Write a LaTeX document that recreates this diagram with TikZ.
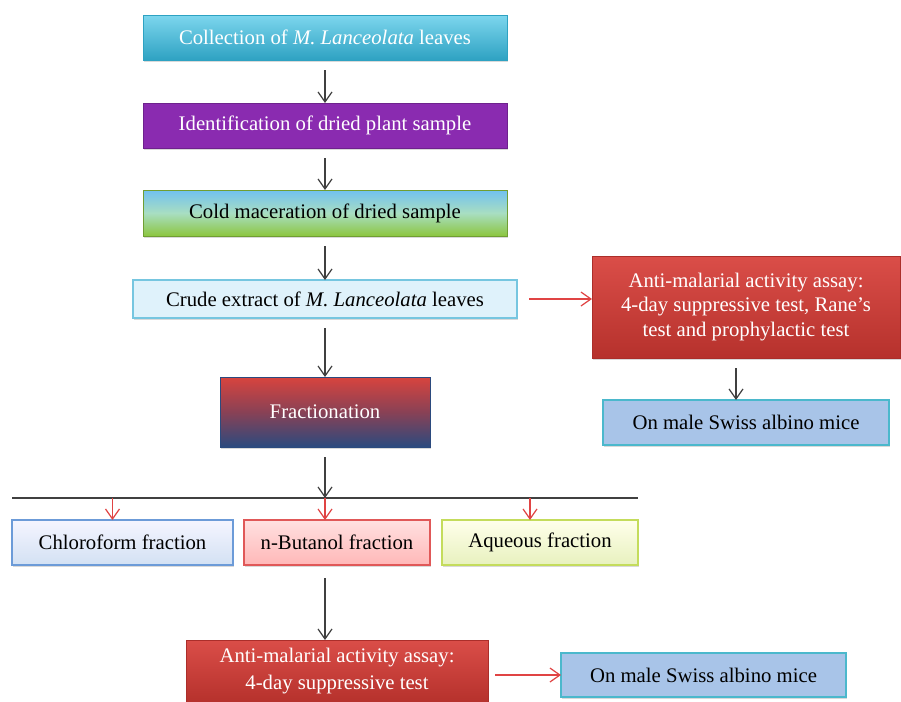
\documentclass[tikz,border=0pt]{standalone}
\usepackage{fontspec}
\setmainfont{Liberation Serif}
\usepackage{tikz}
\usetikzlibrary{arrows.meta, positioning, shadows}
\usepackage{xcolor}
\definecolor{cyantop}{HTML}{7DD6EE}
\definecolor{cyanbot}{HTML}{2EA2C2}
\definecolor{purplebox}{HTML}{8A2BB0}
\definecolor{greenbot}{HTML}{8CC63F}
\definecolor{crudefill}{HTML}{DFF2FB}
\definecolor{crudeline}{HTML}{76C6E0}
\definecolor{assayred}{HTML}{D63A34}
\definecolor{micefill}{HTML}{A8C4E8}
\definecolor{miceline}{HTML}{4BB8CC}
\definecolor{fracblue}{HTML}{2B4A7E}
\definecolor{chloroline}{HTML}{6C9BD8}
\definecolor{butline}{HTML}{E05858}
\definecolor{aqline}{HTML}{C4DC5C}
\definecolor{arrowred}{HTML}{E04444}
\tikzstyle{box} = [
    rectangle, inner sep=2pt, outer sep=0pt, align=center,
    font=\fontsize{11.8}{14}\selectfont,
    drop shadow={shadow xshift=0.6pt, shadow yshift=-0.9pt, opacity=0.3}
]
\tikzstyle{mainbox} = [box, minimum width=7.28cm, minimum height=0.9cm]
\tikzstyle{assaybox} = [box, top color=assayred!90!white, bottom color=assayred!85!black,
    draw=assayred!80!black, text=white]
\tikzstyle{micebox} = [box, minimum width=5.72cm, minimum height=0.9cm,
    fill=micefill, draw=miceline, line width=0.8pt]
\tikzstyle{fracbox} = [box, minimum height=0.9cm, line width=0.8pt]
\tikzstyle{arrow} = [-{Straight Barb[length=2mm, width=2.8mm]}, line width=0.7pt,
    draw=black!75, shorten <=0.2cm]
\tikzstyle{redarrow} = [arrow, draw=arrowred]
\begin{document}
\begin{tikzpicture}
    \useasboundingbox (0,0) rectangle (18.02,-14.02);
    % Nodes
    \node[mainbox, top color=cyantop, bottom color=cyanbot, draw=cyanbot, text=white]
        (collect) at (6.50,-0.75) {Collection of \textit{M. Lanceolata} leaves};
    \node[mainbox, fill=purplebox, draw=purplebox!80!black, text=white, below=0.86cm of collect]
        (ident) {Identification of dried plant sample};
    \node[mainbox, minimum height=0.92cm, top color=cyantop!90!blue, bottom color=greenbot,
        middle color=cyantop!60!greenbot!70!white, draw=greenbot!80!black, below=0.84cm of ident]
        (cold) {Cold maceration of dried sample};
    \node[box, minimum width=7.68cm, minimum height=0.76cm, fill=crudefill, draw=crudeline,
        line width=0.8pt, below=0.88cm of cold] (crude) {Crude extract of \textit{M. Lanceolata} leaves};
    \node[box, minimum width=4.2cm, minimum height=1.4cm, top color=assayred!95!white,
        bottom color=fracblue, middle color=assayred!55!fracblue, draw=fracblue, text=white,
        below=1.18cm of crude] (frac) {Fractionation};
    \node[assaybox, minimum width=6.16cm, minimum height=2.04cm, right=1.5cm of crude,
        yshift=-0.16cm] (assay1) {Anti-malarial activity assay:\\4-day suppressive test, Rane's\\test and prophylactic test};
    \node[micebox, below=0.84cm of assay1] (mice1) {On male Swiss albino mice};
    \coordinate[below=1.02cm of frac] (split);
    \node[fracbox, minimum width=3.72cm, top color=red!12, bottom color=red!28, draw=butline,
        below=0.44cm of split, xshift=0.24cm] (nbut) {n-Butanol fraction};
    \node[fracbox, minimum width=4.42cm, top color=blue!4, bottom color=chloroline!30,
        draw=chloroline, left=0.22cm of nbut] (chloro) {Chloroform fraction};
    \node[fracbox, minimum width=3.92cm, top color=yellow!8, bottom color=aqline!40,
        draw=aqline, right=0.24cm of nbut] (aqueous) {Aqueous fraction};
    \node[assaybox, minimum width=6.04cm, minimum height=1.24cm, font=\fontsize{11.8}{15}\selectfont,
        below=1.5cm of nbut] (assay2) {Anti-malarial activity assay:\\4-day suppressive test};
    \node[micebox, minimum width=5.7cm, minimum height=0.88cm, right=1.46cm of assay2,
        yshift=-0.08cm] (mice2) {On male Swiss albino mice};
    % Arrows
    \draw[arrow] (collect) -- (ident);
    \draw[arrow] (ident) -- (cold);
    \draw[arrow] (cold) -- (crude);
    \draw[arrow] (crude) -- (frac);
    \draw[arrow] (frac) -- (split);
    \draw[line width=0.7pt, black!75] (split -| chloro.west) -- (split -| aqueous.east);
    \draw[redarrow, shorten <=0pt] ([xshift=-0.2cm]chloro.north |- split) -- ([xshift=-0.2cm]chloro.north);
    \draw[redarrow, shorten <=0pt] (split) -- (split |- nbut.north);
    \draw[redarrow, shorten <=0pt] ([xshift=-0.2cm]aqueous.north |- split) -- ([xshift=-0.2cm]aqueous.north);
    \draw[arrow, shorten <=0.26cm] (nbut.south -| split) -- (assay2.north -| split);
    \draw[redarrow, shorten <=0.24cm] (crude.east) -- (crude.east -| assay1.west);
    \draw[arrow] ([xshift=-0.2cm]assay1.south) -- ([xshift=-0.2cm]assay1.south |- mice1.north);
    \draw[redarrow, shorten <=0.14cm] (mice2.west -| assay2.east) -- (mice2.west);
\end{tikzpicture}
\end{document}
